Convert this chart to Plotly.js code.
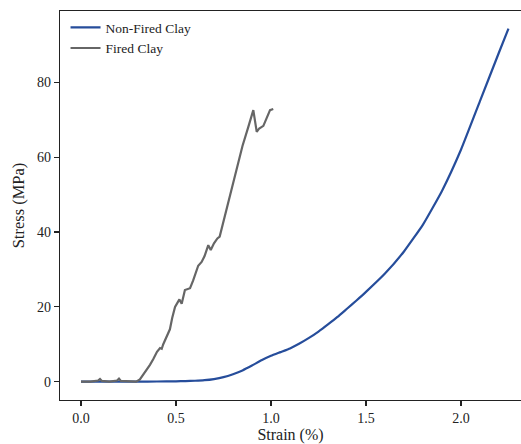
<!DOCTYPE html>
<html>
<head>
<meta charset="utf-8">
<script src="https://cdn.plot.ly/plotly-3.0.1.min.js"></script>
<style>
html,body{margin:0;padding:0;background:#fff;}
#chart{width:521px;height:444px;}
</style>
</head>
<body>
<div id="chart"></div>
<script>
// Non-Fired Clay
const nonFiredStrain = [0, 0.1, 0.2, 0.3, 0.4, 0.5, 0.55, 0.6, 0.65, 0.7, 0.75, 0.8, 0.85, 0.9, 0.95, 1.0, 1.05, 1.1, 1.15, 1.2, 1.25, 1.3, 1.35, 1.4, 1.45, 1.5, 1.6, 1.7, 1.8, 1.9, 2.0, 2.1, 2.2, 2.25];
const nonFiredStress = [0, 0, 0, 0.02, 0.05, 0.1, 0.15, 0.25, 0.4, 0.7, 1.2, 2.0, 3.0, 4.3, 5.7, 6.9, 7.9, 8.9, 10.2, 11.7, 13.4, 15.3, 17.3, 19.5, 21.7, 24.0, 28.9, 34.8, 42.0, 51.0, 62.0, 75.0, 88.0, 94.4];

// Fired Clay
const firedStrain = [0, 0.05, 0.09, 0.1, 0.11, 0.15, 0.19, 0.2, 0.21, 0.25, 0.29, 0.31, 0.33, 0.35, 0.363, 0.38, 0.4, 0.416, 0.425, 0.433, 0.45, 0.468, 0.48, 0.495, 0.518, 0.53, 0.547, 0.574, 0.59, 0.617, 0.635, 0.65, 0.67, 0.683, 0.7, 0.718, 0.73, 0.76, 0.79, 0.82, 0.85, 0.88, 0.907, 0.925, 0.938, 0.96, 0.977, 0.995, 1.012];
const firedStress = [0, 0, 0.3, 0.7, 0.2, 0, 0.3, 0.8, 0.2, 0, 0, 0.6, 2, 3.5, 4.5, 6, 8, 9, 8.8, 10, 12, 14, 17, 20, 22, 20.8, 24.5, 25, 27, 31, 32, 33.5, 36.5, 35.2, 37, 38.3, 38.8, 45, 51, 57, 63, 68, 72.6, 66.8, 67.7, 68.4, 70.4, 72.6, 72.9];

const xTickVals = [0, 0.5, 1.0, 1.5, 2.0];
const yTickVals = [0, 20, 40, 60, 80];

const serif = "Liberation Serif";

const traces = [
  {x: nonFiredStrain, y: nonFiredStress, type: 'scatter', mode: 'lines', name: 'Non-Fired Clay',
   line: {color: '#264d9b', width: 2.2, shape: 'spline', smoothing: 0.4}},
  {x: firedStrain, y: firedStress, type: 'scatter', mode: 'lines', name: 'Fired Clay',
   line: {color: '#666666', width: 2.2}}
];

const layout = {
  width: 521, height: 444,
  margin: {l: 60, r: 0, t: 11, b: 44, pad: 0},
  paper_bgcolor: '#fff', plot_bgcolor: '#fff',
  font: {family: serif, size: 14, color: '#222'},
  showlegend: true,
  legend: {x: 0.012, y: 0.997, xanchor: 'left', yanchor: 'top', bgcolor: 'rgba(0,0,0,0)',
           font: {family: serif, size: 13.5, color: '#222'}, tracegroupgap: 0},
  xaxis: {range: [-0.1105, 2.316], tickvals: xTickVals, tickformat: '.1f',
          showgrid: false, zeroline: false, showline: true, linecolor: '#222', linewidth: 1.3,
          mirror: true, ticks: 'outside', ticklen: 5, tickwidth: 1.2, tickcolor: '#222',
          tickfont: {family: serif, size: 14, color: '#222'},
          title: {text: 'Strain (%)', font: {family: serif, size: 16, color: '#222'}, standoff: 7}},
  yaxis: {range: [-4.9, 99.1], tickvals: yTickVals,
          showgrid: false, zeroline: false, showline: true, linecolor: '#222', linewidth: 1.3,
          ticks: 'outside', ticklen: 5, tickwidth: 1.2, tickcolor: '#222',
          tickfont: {family: serif, size: 14, color: '#222'},
          title: {text: 'Stress (MPa)', font: {family: serif, size: 16.5, color: '#222'}, standoff: 8}}
};

Plotly.newPlot('chart', traces, layout, {displayModeBar: false, staticPlot: true});
</script>
</body>
</html>
